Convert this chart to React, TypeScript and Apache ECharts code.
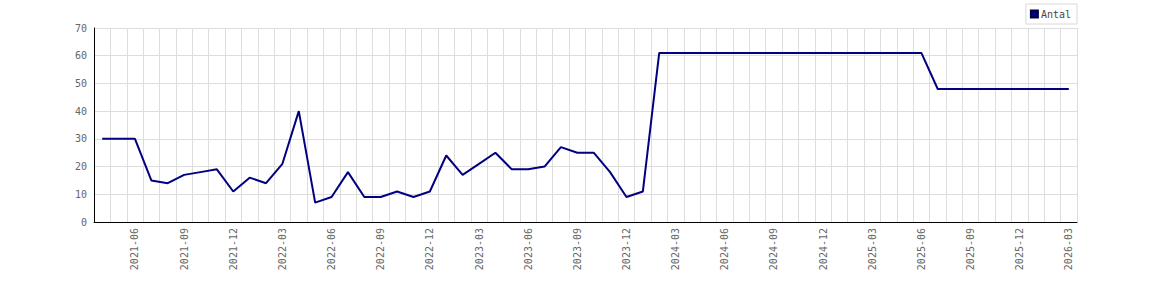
import React, { useEffect, useRef } from "react";
import * as echarts from "echarts";

const months: string[] = [
  "2021-04", "2021-05", "2021-06", "2021-07", "2021-08", "2021-09", "2021-10", "2021-11", "2021-12",
  "2022-01", "2022-02", "2022-03", "2022-04", "2022-05", "2022-06", "2022-07", "2022-08", "2022-09", "2022-10", "2022-11", "2022-12",
  "2023-01", "2023-02", "2023-03", "2023-04", "2023-05", "2023-06", "2023-07", "2023-08", "2023-09", "2023-10", "2023-11", "2023-12",
  "2024-01", "2024-02", "2024-03", "2024-04", "2024-05", "2024-06", "2024-07", "2024-08", "2024-09", "2024-10", "2024-11", "2024-12",
  "2025-01", "2025-02", "2025-03", "2025-04", "2025-05", "2025-06", "2025-07", "2025-08", "2025-09", "2025-10", "2025-11", "2025-12",
  "2026-01", "2026-02", "2026-03",
];

const antal: number[] = [
  30, 30, 30, 15, 14, 17, 18, 19, 11,
  16, 14, 21, 40, 7, 9, 18, 9, 9, 11, 9, 11,
  24, 17, 21, 25, 19, 19, 20, 27, 25, 25, 18, 9,
  11, 61, 61, 61, 61, 61, 61, 61, 61, 61, 61, 61,
  61, 61, 61, 61, 61, 61, 48, 48, 48, 48, 48, 48,
  48, 48, 48,
];

const seriesName = "Antal";
const FONT = "DejaVu Sans Mono";

export default function App() {
  const ref = useRef<HTMLDivElement>(null);
  useEffect(() => {
    if (!ref.current) return;
    const chart = echarts.init(ref.current, undefined, { renderer: "svg" });
    chart.setOption({
      animation: false,
      backgroundColor: "#ffffff",
      legend: {
        data: [{ name: seriesName, icon: "rect" }],
        right: 93,
        top: 4,
        itemWidth: 7,
        itemHeight: 7,
        itemGap: 4,
        padding: [5, 6, 5, 4],
        borderColor: "#d8d8d8",
        borderWidth: 1,
        textStyle: { fontFamily: FONT, fontSize: 10, color: "#444", padding: [0, 0, 0, -2] },
      },
      grid: { left: 94, right: 93, top: 28, bottom: 78 },
      xAxis: {
        type: "category",
        data: months,
        boundaryGap: true,
        axisLine: { show: true, lineStyle: { color: "#000", width: 1 } },
        axisTick: { show: false },
        axisLabel: {
          rotate: 90,
          interval: (i: number) => i % 3 === 2,
          fontFamily: FONT,
          fontSize: 10,
          color: "#666",
          margin: 6,
        },
        splitLine: { show: true, interval: 0, lineStyle: { color: "#dddddd", width: 1 } },
      },
      yAxis: {
        type: "value",
        min: 0,
        max: 70,
        interval: 10,
        axisLine: { show: true, lineStyle: { color: "#000", width: 1 } },
        axisTick: { show: false },
        axisLabel: { fontFamily: FONT, fontSize: 10, color: "#666", margin: 7 },
        splitLine: { show: true, lineStyle: { color: "#dddddd", width: 1 } },
      },
      series: [
        {
          name: seriesName,
          type: "line",
          data: antal,
          symbol: "none",
          lineStyle: { color: "#000080", width: 2 },
          itemStyle: { color: "#000080", borderColor: "#000040", borderWidth: 1 },
        },
      ],
    });
    return () => chart.dispose();
  }, []);
  return (
    <div
      ref={ref}
      style={{ position: "fixed", left: 0, top: 0, width: 1170, height: 300 }}
    />
  );
}
